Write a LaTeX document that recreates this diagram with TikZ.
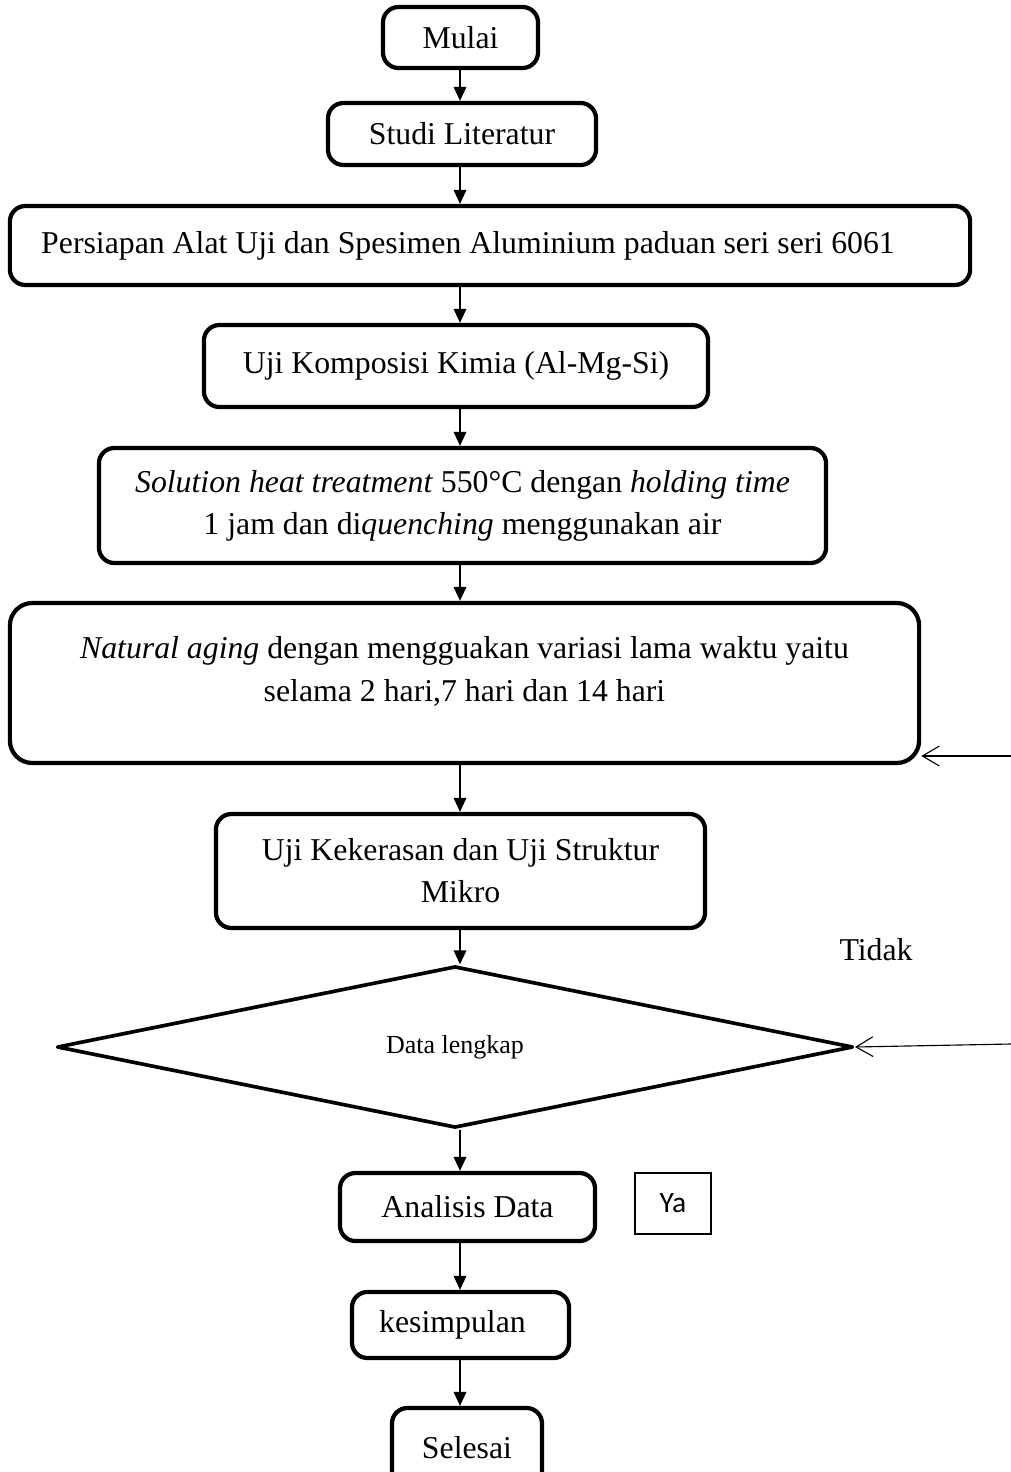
\documentclass[tikz,border=0pt]{standalone}
\usepackage{fontspec}
\setmainfont{Liberation Serif}
\newfontfamily\yafont{Carlito}
\usetikzlibrary{shapes.geometric, arrows.meta, positioning}

\begin{document}
\begin{tikzpicture}[x=0.025cm, y=-0.025cm, font=\fontsize{22.6}{30}\selectfont,
    kotak/.style={draw, line width=3pt, rounded corners=11pt, align=center, inner sep=2pt},
    panah/.style={-{Triangle[length=10pt, width=9pt]}, line width=1.1pt},
    balik/.style={-{Straight Barb[length=12pt, width=14pt]}, line width=0.8pt}]
    \useasboundingbox (0,0) rectangle (1011,1472);
    \clip (0,0) rectangle (1011,1472);
    \coordinate (kolom) at (460,0);

    \node[kotak, minimum width=3.875cm, minimum height=1.525cm] (mulai) at (460.5,37.5) {\raisebox{-0.15cm}{Mulai}};
    \node[kotak, minimum width=6.7cm, minimum height=1.55cm] (studi) at (462,134) {\raisebox{-0.1cm}{Studi Literatur}};
    \node[kotak, minimum width=24cm, minimum height=1.975cm] (persiapan) at (490,245.5)
        {Persiapan Alat Uji dan Spesimen Aluminium paduan seri seri 6061\hspace*{1.1cm}};
    \node[kotak, minimum width=12.6cm, minimum height=2.05cm] (komposisi) at (456,366) {Uji Komposisi Kimia (Al-Mg-Si)};
    \node[kotak, minimum width=18.175cm, minimum height=2.875cm] (solution) at (462.5,505.5)
        {\textit{Solution heat treatment} 550°C dengan \textit{holding time}\\1 jam dan di\textit{quenching} menggunakan air};
    \node[kotak, rounded corners=16pt, minimum width=22.725cm, minimum height=4cm] (natural) at (464.5,683)
        {\textit{Natural aging} dengan mengguakan variasi lama waktu yaitu\\selama 2 hari,7 hari dan 14 hari\\[-10pt]\mbox{}};
    \node[kotak, minimum width=12.225cm, minimum height=2.85cm] (kekerasan) at (460.5,871)
        {Uji Kekerasan dan Uji Struktur\\Mikro};
    \node[draw, diamond, line width=2.6pt, line join=round, minimum width=19.9cm, minimum height=3.75cm,
        inner sep=0pt, font=\fontsize{18.5}{22}\selectfont] (data) at (455,1047) {\raisebox{-0.28cm}{Data lengkap}};
    \node[kotak, minimum width=6.375cm, minimum height=1.7cm] (analisis) at (467.5,1207) {Analisis Data};
    \node[draw, line width=0.9pt, minimum width=1.9cm, minimum height=1.525cm, font=\yafont\fontsize{21}{25}\selectfont] (ya) at (673,1203.5) {Ya};
    \node[kotak, minimum width=5.425cm, minimum height=1.65cm] (kesimpulan) at (460.5,1325) {kesimpulan\hspace*{0.4cm}};
    \node[kotak, minimum width=3.75cm, minimum height=2cm] (selesai) at (467,1448) {Selesai};
    \node (tidak) at (876,950) {Tidak};

    \draw[panah] (mulai.south -| kolom) -- (studi.north -| kolom);
    \draw[panah] (studi.south -| kolom) -- (persiapan.north -| kolom);
    \draw[panah] (persiapan.south -| kolom) -- (komposisi.north -| kolom);
    \draw[panah] (komposisi.south -| kolom) -- (solution.north -| kolom);
    \draw[panah] (solution.south -| kolom) -- (natural.north -| kolom);
    \draw[panah] (natural.south -| kolom) -- (kekerasan.north -| kolom);
    \draw[panah] (kekerasan.south -| kolom) -- (data.north -| kolom);
    \draw[panah] (data.south -| kolom) -- (analisis.north -| kolom);
    \draw[panah] (analisis.south -| kolom) -- (kesimpulan.north -| kolom);
    \draw[panah] (kesimpulan.south -| kolom) -- (selesai.north -| kolom);

    % garis balik dari tepi kanan
    \coordinate (tepiA) at (1011,756);
    \coordinate (tepiB) at (1011,1044);
    \draw[balik] (tepiA) -- (tepiA -| natural.east);
    \draw[balik] (tepiB) -- (data.east);
\end{tikzpicture}
\end{document}
